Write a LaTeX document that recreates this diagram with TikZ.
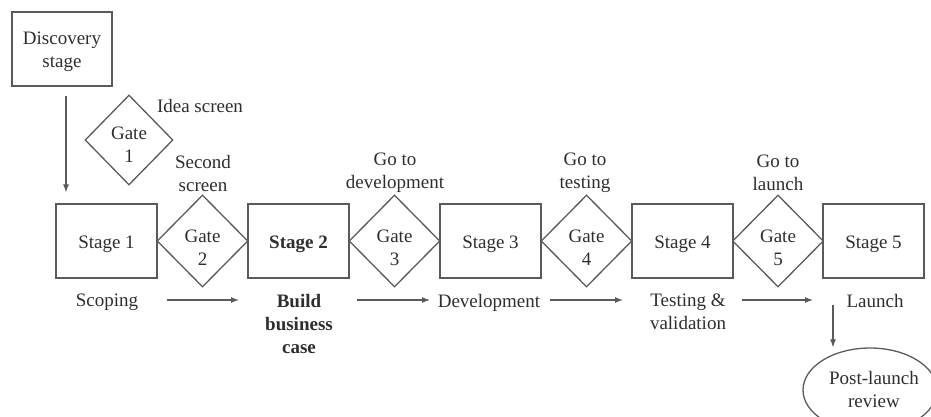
\documentclass[tikz,border=0pt]{standalone}
\usepackage{fontspec}
\setmainfont{Liberation Serif}
\usetikzlibrary{shapes.geometric,arrows.meta}
\definecolor{ink}{HTML}{5A5A5A}
\definecolor{txt}{HTML}{2E2E2E}
\begin{document}
\begin{tikzpicture}[x=1pt,y=-1pt,
  every node/.style={text=txt, font=\fontsize{19}{23}\selectfont, align=center, inner sep=0pt},
  stagebox/.style={draw=ink, line width=1.3pt, minimum width=101pt, minimum height=74pt,
                   text height=15pt, text depth=0pt},
  gatebox/.style={draw=ink, line width=1.3pt, diamond, minimum width=91pt, minimum height=92pt},
  flow/.style={draw=ink, line width=1.1pt, -{Latex[length=8pt,width=6pt]}},
]
\useasboundingbox (0,0) rectangle (931,416);

% discovery stage and the first gate
\node[stagebox, minimum width=100pt] (disc) at (62,49) {};
\node (disctxt) at ([yshift=-3pt]disc.center) {Discovery\\stage};
\node[gatebox, minimum width=88pt, minimum height=90pt] (g1) at (129,140) {};
\node (g1txt) at ([yshift=-5pt]g1.center) {Gate\\1};
\node (l1) at (200,106) {Idea screen};

% stages and gates along the main row
\node[stagebox] (s1) at (106.5,241) {Stage 1};
\node[gatebox]  (g2) at (202.5,241) {};
\node[stagebox] (s2) at (298.5,241) {\textbf{Stage 2}};
\node[gatebox]  (g3) at (394.5,241) {};
\node[stagebox] (s3) at (490.5,241) {Stage 3};
\node[gatebox]  (g4) at (586.5,241) {};
\node[stagebox] (s4) at (682.5,241) {Stage 4};
\node[gatebox]  (g5) at (778,241)   {};
\node[stagebox] (s5) at (873.5,241) {Stage 5};
\foreach \g/\n in {g2/2,g3/3,g4/4,g5/5}
  \node (\g txt) at ([yshift=-7pt]\g.center) {Gate\\\n};

% gate decisions
\node (l2) at (203,173) {Second\\screen};
\node (l3) at (395,173) {Go to\\development};
\node (l4) at (585,173) {Go to\\testing};
\node (l5) at (778,173) {Go to\\launch};

% stage activities
\node[anchor=north] (a1) at (107,294) {Scoping};
\node[anchor=north] (a2) at (299,294) {\textbf{Build}\\\textbf{business}\\\textbf{case}};
\node[anchor=north] (a3) at (489,294) {Development};
\node[anchor=north] (a4) at (688,294) {Testing \&\\validation};
\node[anchor=north] (a5) at (875,294) {Launch};

% post-launch review
\node[draw=ink, line width=1.3pt, ellipse, minimum width=134pt, minimum height=84pt] (post) at (870,390) {};
\node (posttxt) at ([xshift=4pt,yshift=1pt]post.center) {Post-launch\\review};

% connectors
\draw[flow] ([xshift=4pt,yshift=-9pt]disc.south) -- ([xshift=-40.5pt,yshift=11pt]s1.north);
\coordinate (f1a) at (167,300); \coordinate (f1b) at (239,300);
\coordinate (f2a) at (357,300); \coordinate (f2b) at (430,300);
\coordinate (f3a) at (550,300); \coordinate (f3b) at (623,300);
\coordinate (f4a) at (742,300); \coordinate (f4b) at (813,300);
\draw[flow] (f1a) -- (f1b);
\draw[flow] (f2a) -- (f2b);
\draw[flow] (f3a) -- (f3b);
\draw[flow] (f4a) -- (f4b);
\coordinate (pl) at (833,305);
\draw[flow] (pl) -- (pl |- post.north);
\end{tikzpicture}
\end{document}
